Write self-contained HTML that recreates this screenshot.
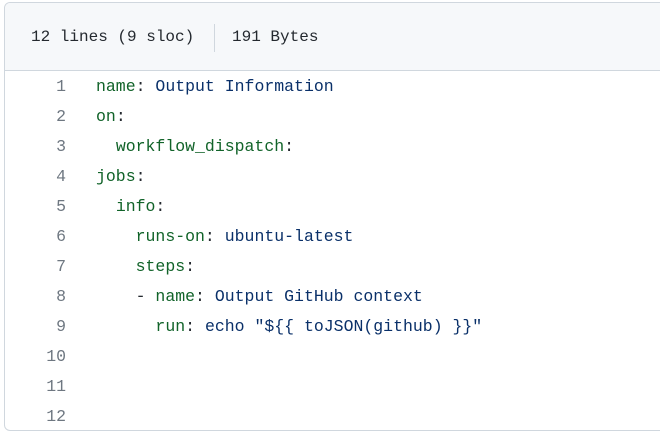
<!DOCTYPE html>
<html><head><meta charset="utf-8"><style>
html,body{margin:0;padding:0;background:#fff;width:660px;height:440px;overflow:hidden}
.card{position:absolute;left:4px;top:2px;width:700px;height:429px;border:1px solid #d0d7de;border-radius:6px;box-sizing:border-box;overflow:hidden}
.hdr{position:absolute;left:0;top:0;right:0;height:68px;background:#f6f8fa;border-bottom:1px solid #d0d7de;box-sizing:border-box}
.hdr span{position:absolute;top:22px;font:16px/24px "Liberation Mono",monospace;color:#24292f}
.div{position:absolute;left:209px;top:21px;width:1px;height:28px;background:#d0d7de}
.ln,.code{position:absolute;font:16.5px/30px "Liberation Mono",monospace;white-space:pre}
.ln{left:0;width:61px;text-align:right;color:#6e7781;top:0px}
.code{left:91px;top:0px;color:#24292f}
.k{color:#116329}.v{color:#0a3069}
</style></head><body>
<div class="card">
<div class="hdr"><span style="left:26px">12 lines (9 sloc)</span><div class="div"></div><span style="left:227px">191 Bytes</span></div>
<div style="position:absolute;left:0;top:69px;width:100%;">
<div class="ln">1
2
3
4
5
6
7
8
9
10
11
12</div>
<div class="code"><span class="k">name</span>: <span class="v">Output Information</span>
<span class="k">on</span>:
  <span class="k">workflow_dispatch</span>:
<span class="k">jobs</span>:
  <span class="k">info</span>:
    <span class="k">runs-on</span>: <span class="v">ubuntu-latest</span>
    <span class="k">steps</span>:
    - <span class="k">name</span>: <span class="v">Output GitHub context</span>
      <span class="k">run</span>: <span class="v">echo "${{ toJSON(github) }}"</span>



</div>
</div>
</div>
</body></html>
